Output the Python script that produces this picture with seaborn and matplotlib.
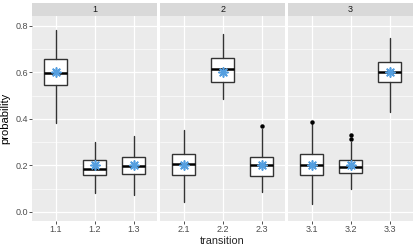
import matplotlib
matplotlib.use("Agg")
import matplotlib.pyplot as plt
import seaborn as sns
import pandas as pd
from matplotlib.patches import Rectangle

# box statistics
transition = ["1.1", "1.2", "1.3", "2.1", "2.2", "2.3", "3.1", "3.2", "3.3"]
facet = [1, 1, 1, 2, 2, 2, 3, 3, 3]
whislo = [0.383, 0.080, 0.073, 0.044, 0.487, 0.085, 0.033, 0.097, 0.429]
q1 = [0.544, 0.158, 0.163, 0.159, 0.559, 0.153, 0.160, 0.166, 0.557]
med = [0.595, 0.185, 0.197, 0.206, 0.615, 0.200, 0.202, 0.193, 0.602]
q3 = [0.656, 0.225, 0.236, 0.250, 0.663, 0.237, 0.250, 0.225, 0.645]
whishi = [0.781, 0.300, 0.328, 0.352, 0.764, 0.355, 0.378, 0.300, 0.746]
means = [0.6, 0.2, 0.2, 0.2, 0.6, 0.2, 0.2, 0.2, 0.6]
outliers = [[], [], [], [], [], [0.369], [0.386], [0.315, 0.329], []]

df = pd.DataFrame({"transition": transition, "facet": facet, "mean": means})

sns.set_theme(style="darkgrid", rc={
    "axes.facecolor": "#EBEBEB",
    "grid.color": "white",
    "axes.edgecolor": "#EBEBEB",
})
plt.rcParams["font.family"] = ["Liberation Sans", "DejaVu Sans"]

fig, axes = plt.subplots(1, 3, sharey=True, figsize=(4.15, 2.46), dpi=100)
fig.subplots_adjust(left=0.0778, right=0.995, bottom=0.1004, top=0.936, wspace=0.027)

for k, ax in enumerate(axes):
    idx = [i for i in range(len(transition)) if facet[i] == k + 1]
    stats = [dict(whislo=whislo[i], q1=q1[i], med=med[i], q3=q3[i],
                  whishi=whishi[i], fliers=outliers[i], label=transition[i])
             for i in idx]
    ax.bxp(stats, positions=[0, 1, 2], widths=0.6, patch_artist=True,
           showcaps=False,
           boxprops=dict(facecolor="white", edgecolor="#333333", linewidth=1.0),
           medianprops=dict(color="black", linewidth=1.8),
           whiskerprops=dict(color="#333333", linewidth=1.0),
           flierprops=dict(marker="o", markersize=2.2, markerfacecolor="black",
                           markeredgecolor="black"),
           zorder=2)
    sub = df[df["facet"] == k + 1]
    sns.scatterplot(x=[0, 1, 2], y=sub["mean"].values, ax=ax, marker=(8, 2, 0),
                    s=42, color="#559FE0", linewidth=1.2, edgecolor="#559FE0",
                    zorder=3, legend=False)
    ax.set_xlim(-0.6, 2.6)
    ax.set_ylim(-0.04, 0.843)
    ax.set_xticks([0, 1, 2])
    ax.set_xticklabels(sub["transition"].tolist())
    ax.set_yticks([0, 0.2, 0.4, 0.6, 0.8])
    ax.set_yticks([0.1, 0.3, 0.5, 0.7], minor=True)
    ax.grid(True, which="major", color="white", linewidth=0.9)
    ax.grid(True, which="minor", axis="y", color="white", linewidth=0.45)
    ax.tick_params(axis="both", which="major", labelsize=6.5, labelcolor="#4D4D4D",
                   length=2.0, width=0.6, color="#333333", pad=0.8,
                   bottom=True, left=(k == 0))
    ax.tick_params(axis="both", which="minor", length=0)
    for s in ax.spines.values():
        s.set_visible(False)
    ax.set_xlabel("")
    ax.set_ylabel("")
    # facet strip
    ax.add_patch(Rectangle((0, 1.0), 1, 0.06, transform=ax.transAxes,
                           facecolor="#D9D9D9", edgecolor="none", clip_on=False))
    ax.text(0.5, 1.03, str(k + 1), transform=ax.transAxes, ha="center",
            va="center", fontsize=6.5, color="#1A1A1A")

axes[0].yaxis.set_major_formatter(matplotlib.ticker.FormatStrFormatter("%.1f"))
axes[0].set_ylabel("probability", fontsize=8, color="black", labelpad=4)
fig.text(0.535, 0.002, "transition", ha="center", va="bottom", fontsize=7.8)

fig.savefig("out.png", dpi=100)
